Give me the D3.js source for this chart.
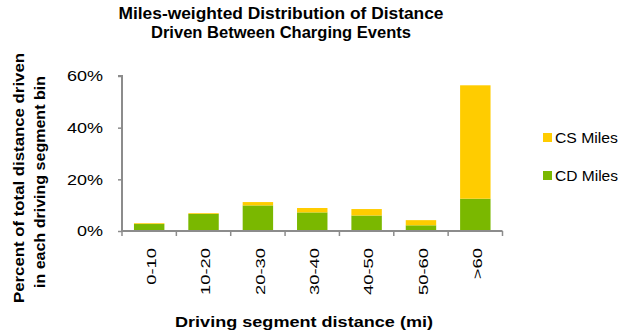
<!DOCTYPE html>
<html>
<head>
<meta charset="utf-8">
<script src="https://cdn.jsdelivr.net/npm/d3@7"></script>
<style>
  body { margin: 0; background: #fff; }
  svg { font-family: "Liberation Sans", Arial, sans-serif; }
</style>
</head>
<body>
<svg id="chart"></svg>
<script>
// Data
let bins = ["0-10", "10-20", "20-30", "30-40", "40-50", "50-60", ">60"];
let cdMiles = [2.7, 6.6, 9.9, 7.2, 6.0, 2.2, 12.5];
let csMiles = [0.3, 0.3, 1.3, 1.7, 2.5, 2.0, 43.9];
let yTicks = [0, 20, 40, 60];

// Colors
let cdColor = "#7ab800";
let csColor = "#ffcc00";
let axisColor = "#8c8c8c";

let width = 623;
let height = 335;

// the original text looks horizontally stretched, so widen text by a factor
function stretch(sel, factor) {
  sel.each(function() {
    let len = this.getComputedTextLength();
    d3.select(this)
      .attr("textLength", len * factor)
      .attr("lengthAdjust", "spacingAndGlyphs");
  });
}

let svg = d3.select("#chart")
  .attr("width", width)
  .attr("height", height);

let xax = d3.scaleBand()
  .domain(bins)
  .range([122, 502.5])
  .paddingInner(0.44)
  .paddingOuter(0.22);

let yax = d3.scaleLinear()
  .domain([0, 60])
  .range([231, 76]);

let stackData = bins.map((b, i) => ({bin: b, cd: cdMiles[i], cs: csMiles[i]}));
let series = d3.stack().keys(["cd", "cs"])(stackData);
let colors = {cd: cdColor, cs: csColor};

svg.append("g")
  .selectAll("g")
  .data(series)
  .join("g")
    .attr("fill", d => colors[d.key])
  .selectAll("rect")
  .data(d => d)
  .join("rect")
    .attr("x", d => xax(d.data.bin))
    .attr("width", xax.bandwidth())
    .attr("y", d => yax(d[1]))
    .attr("height", d => yax(d[0]) - yax(d[1]));

// y axis
let yAxis = svg.append("g")
  .attr("transform", "translate(122, 0)")
  .call(d3.axisLeft(yax).tickValues(yTicks).tickFormat(d => d + "%").tickSize(4).tickPadding(15));
yAxis.select(".domain").attr("stroke", axisColor).attr("stroke-width", 2)
  .attr("d", `M-4,${yax(60)}H0V${yax(0)}`);
yAxis.selectAll(".tick line").attr("stroke", axisColor).attr("stroke-width", 1.5);
yAxis.selectAll(".tick text")
  .attr("font-size", 15)
  .attr("font-family", "Liberation Sans, Arial, sans-serif")
  .attr("fill", "#000")
  .call(stretch, 1.2);

// x axis
let xAxis = svg.append("g")
  .attr("transform", `translate(0, ${yax(0)})`)
  .call(d3.axisBottom(xax).tickSize(0).tickPadding(12));
xAxis.select(".domain").attr("stroke", axisColor).attr("stroke-width", 2)
  .attr("d", "M122,0H502.5");
xAxis.selectAll(".tick text")
  .attr("font-size", 13.5)
  .attr("font-family", "Liberation Sans, Arial, sans-serif")
  .attr("fill", "#000")
  .attr("transform", "rotate(-90)")
  .attr("text-anchor", "end")
  .attr("x", -17)
  .attr("y", 2)
  .attr("dy", "0.35em")
  .call(stretch, 1.36);

// tick marks between categories
let boundaries = bins.map((b, i) => i).concat([bins.length]);
let step = (502.5 - 122) / bins.length;
xAxis.append("g")
  .selectAll("line")
  .data(boundaries)
  .join("line")
    .attr("x1", d => 122 + d * step)
    .attr("x2", d => 122 + d * step)
    .attr("y1", 0)
    .attr("y2", 5)
    .attr("stroke", axisColor)
    .attr("stroke-width", 1.5);

// title
let title = svg.append("text")
  .attr("text-anchor", "middle")
  .attr("font-size", 16)
  .attr("font-weight", "bold")
  .attr("fill", "#000");
title.append("tspan").attr("x", 281).attr("y", 19)
  .attr("textLength", 325).attr("lengthAdjust", "spacingAndGlyphs")
  .text("Miles-weighted Distribution of Distance");
title.append("tspan").attr("x", 281).attr("y", 38)
  .attr("textLength", 260).attr("lengthAdjust", "spacingAndGlyphs")
  .text("Driven Between Charging Events");

// y title
let ytitle = svg.append("g")
  .attr("transform", "rotate(-90)")
  .attr("text-anchor", "middle")
  .attr("font-size", 15.5)
  .attr("font-weight", "bold")
  .attr("fill", "#000");
ytitle.append("text").attr("x", -178).attr("y", 24)
  .attr("textLength", 250).attr("lengthAdjust", "spacingAndGlyphs")
  .text("Percent of total distance driven");
ytitle.append("text").attr("x", -182).attr("y", 45)
  .attr("textLength", 212).attr("lengthAdjust", "spacingAndGlyphs")
  .text("in each driving segment bin");

// x title
svg.append("text")
  .attr("x", 304)
  .attr("y", 327)
  .attr("text-anchor", "middle")
  .attr("font-size", 15.5)
  .attr("font-weight", "bold")
  .attr("fill", "#000")
  .attr("textLength", 258)
  .attr("lengthAdjust", "spacingAndGlyphs")
  .text("Driving segment distance (mi)");

// legend
let legendItems = [{name: "CS Miles", color: csColor}, {name: "CD Miles", color: cdColor}];
let legend = svg.append("g")
  .selectAll("g")
  .data(legendItems)
  .join("g")
    .attr("transform", (d, i) => `translate(543, ${137.5 + i * 38})`);
legend.append("rect")
  .attr("x", 0)
  .attr("y", -4.5)
  .attr("width", 9)
  .attr("height", 9)
  .attr("fill", d => d.color);
legend.append("text")
  .attr("x", 12)
  .attr("y", 0)
  .attr("dy", "0.36em")
  .attr("font-size", 14)
  .attr("fill", "#000")
  .attr("textLength", 63)
  .attr("lengthAdjust", "spacingAndGlyphs")
  .text(d => d.name);
</script>
</body>
</html>
